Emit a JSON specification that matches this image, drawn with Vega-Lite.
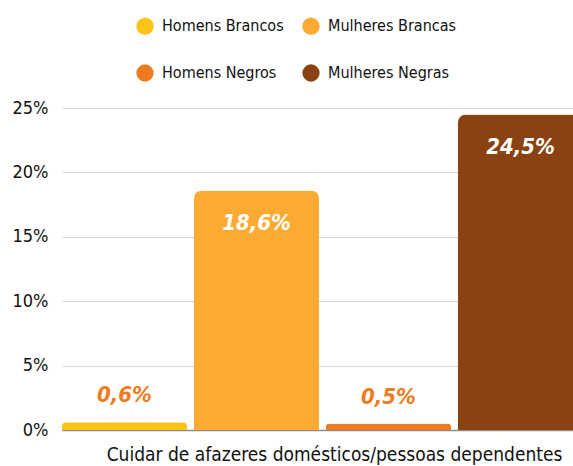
{
  "$schema": "https://vega.github.io/schema/vega-lite/v6.json",
  "autosize": {"type": "none"},
  "padding": {"left": 62, "top": 108, "right": 0, "bottom": 36},
  "width": 511,
  "height": 322,
  "background": "white",
  "config": {
    "view": {"stroke": null},
    "locale": {"number": {"decimal": ",", "thousands": ".", "grouping": [3], "currency": ["R$", ""]}},
    "font": "DejaVu Sans Condensed, sans-serif"
  },
  "data": {
    "values": [
      {"grupo": "Homens Brancos", "valor": 0.006},
      {"grupo": "Mulheres Brancas", "valor": 0.186},
      {"grupo": "Homens Negros", "valor": 0.005},
      {"grupo": "Mulheres Negras", "valor": 0.245}
    ]
  },
  "encoding": {
    "x": {
      "field": "grupo",
      "type": "nominal",
      "sort": null,
      "scale": {"paddingInner": 0.053, "paddingOuter": 0, "range": [0, 521]},
      "axis": {
        "title": "Cuidar de afazeres domésticos/pessoas dependentes",
        "labels": false,
        "ticks": false,
        "domain": true,
        "domainColor": "#8c8c8c",
        "domainWidth": 1.5,
        "titleFont": "DejaVu Sans Condensed, sans-serif",
        "titleFontSize": 19,
        "titleFontWeight": "normal",
        "titleColor": "#111111",
        "titleX": 272,
        "titleY": 30,
        "titleAlign": "center",
        "titleBaseline": "alphabetic"
      }
    },
    "y": {
      "field": "valor",
      "type": "quantitative",
      "scale": {"domain": [0, 0.25], "nice": false},
      "axis": {
        "title": null,
        "format": ".0%",
        "values": [0, 0.05, 0.1, 0.15, 0.2, 0.25],
        "domain": false,
        "ticks": false,
        "grid": true,
        "gridColor": "#d4d4d4",
        "gridWidth": 1.2,
        "labelPadding": 14,
        "labelFont": "DejaVu Sans Condensed, sans-serif",
        "labelFontSize": 18,
        "labelColor": "#111111"
      }
    }
  },
  "layer": [
    {
      "mark": {"type": "bar", "cornerRadiusTopLeft": 8, "cornerRadiusTopRight": 8},
      "encoding": {
        "color": {
          "field": "grupo",
          "type": "nominal",
          "scale": {
            "domain": ["Homens Brancos", "Mulheres Brancas", "Homens Negros", "Mulheres Negras"],
            "range": ["#FCC516", "#FDAA32", "#EE7B20", "#8A4212"]
          },
          "legend": {
            "title": null,
            "orient": "none",
            "legendX": 74,
            "legendY": -91,
            "columns": 2,
            "direction": "horizontal",
            "symbolType": "circle",
            "symbolSize": 300,
            "symbolOpacity": 1,
            "symbolStrokeWidth": 0,
            "labelFont": "DejaVu Sans Condensed, sans-serif",
            "labelFontSize": 16,
            "labelColor": "#111111",
            "labelOffset": 8,
            "padding": 0,
            "rowPadding": 29,
            "columnPadding": 18
          }
        }
      }
    },
    {
      "transform": [{"filter": "datum.valor > 0.1"}],
      "mark": {"type": "text", "dy": 33, "baseline": "middle", "color": "white", "font": "DejaVu Sans Condensed, sans-serif", "fontSize": 22, "fontStyle": "italic", "fontWeight": "bold"},
      "encoding": {"text": {"field": "valor", "type": "quantitative", "format": ".1%"}}
    },
    {
      "transform": [{"filter": "datum.valor <= 0.1"}],
      "mark": {"type": "text", "dy": -27, "baseline": "middle", "color": "#EE7B20", "font": "DejaVu Sans Condensed, sans-serif", "fontSize": 22, "fontStyle": "italic", "fontWeight": "bold"},
      "encoding": {"text": {"field": "valor", "type": "quantitative", "format": ".1%"}}
    }
  ]
}
